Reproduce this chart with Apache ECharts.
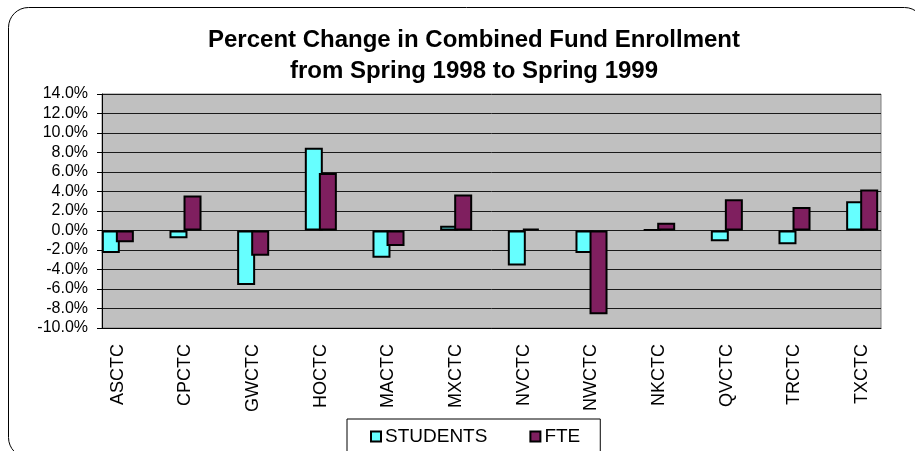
<!DOCTYPE html>
<html>
<head>
<meta charset="utf-8">
<script src="https://cdn.jsdelivr.net/npm/echarts@6/dist/echarts.min.js"></script>
<style>
html,body{margin:0;padding:0;background:#fff;}
#chart{width:915px;height:451px;}
</style>
</head>
<body>
<div id="chart"></div>
<script>
const categories = ['ASCTC','CPCTC','GWCTC','HOCTC','MACTC','MXCTC','NVCTC','NWCTC','NKCTC','QVCTC','TRCTC','TXCTC'];
const students = [-2.3, -0.8, -5.6, 8.5, -2.8, 0.5, -3.6, -2.3, 0.1, -1.1, -1.4, 3.0];
const fte = [-1.2, 3.6, -2.6, 5.9, -1.6, 3.7, 0.2, -8.6, 0.8, 3.2, 2.4, 4.2];
const seriesNames = ['STUDENTS', 'FTE'];
const titleLines = ['Percent Change in Combined Fund Enrollment', 'from Spring 1998 to Spring 1999'];
const yMin = -10, yMax = 14, yStep = 2;

const FONT = '"Liberation Sans", Arial, sans-serif';
const chart = echarts.init(document.getElementById('chart'), null, {renderer: 'canvas'});
chart.setOption({
  animation: false,
  backgroundColor: '#ffffff',
  textStyle: {fontFamily: FONT},
  title: {
    text: titleLines.join('\n'),
    left: 469, top: 20, textAlign: 'center',
    textStyle: {fontFamily: FONT, fontSize: 24, fontWeight: 'bold', color: '#000', lineHeight: 31}
  },
  graphic: [{
    type: 'rect', z: -10, silent: true,
    shape: {x: 8.5, y: 7.5, width: 916, height: 450, r: 20},
    style: {fill: 'none', stroke: '#000', lineWidth: 1}
  }],
  legend: {
    data: seriesNames,
    left: 347, top: 419,
    orient: 'horizontal',
    icon: 'rect',
    itemWidth: 10, itemHeight: 10, itemGap: 42,
    backgroundColor: '#fff', borderColor: '#000', borderWidth: 1,
    padding: [8, 20, 20, 23],
    itemStyle: {borderColor: '#000', borderWidth: 2},
    textStyle: {fontFamily: FONT, fontSize: 19, color: '#000', padding: [0, 0, 0, -1]}
  },
  grid: [
    {left: 102, right: 34, top: 94, bottom: 123, show: true, backgroundColor: '#c0c0c0', borderColor: '#808080', borderWidth: 1},
    {left: 84, right: 19, top: 94, bottom: 123}
  ],
  xAxis: [
    {type: 'category', gridIndex: 0, data: categories,
     axisLine: {show: true, onZero: false, lineStyle: {color: '#000', width: 1}},
     axisTick: {show: false}, axisLabel: {show: false}, splitLine: {show: false}},
    {type: 'category', gridIndex: 1, data: categories,
     axisLine: {show: false}, axisTick: {show: false}, splitLine: {show: false},
     axisLabel: {interval: 0, rotate: 90, margin: 16, fontFamily: FONT, fontSize: 18, color: '#000'}}
  ],
  yAxis: [
    {type: 'value', gridIndex: 0, min: yMin, max: yMax, interval: yStep,
     axisLine: {show: true, lineStyle: {color: '#000', width: 1}},
     axisTick: {show: true, inside: false, length: 5, lineStyle: {color: '#000'}},
     axisLabel: {margin: 14, fontFamily: FONT, fontSize: 16, color: '#000',
       formatter: v => v.toFixed(1) + '%'},
     splitLine: {show: true, lineStyle: {color: '#1a1a1a', width: 1}}},
    {type: 'value', gridIndex: 1, min: yMin, max: yMax, interval: yStep, show: false,
     splitLine: {show: false}}
  ],
  series: [
    {name: seriesNames[0], type: 'bar', xAxisIndex: 1, yAxisIndex: 1, data: students,
     barWidth: 18, barGap: '-22%',
     itemStyle: {color: '#66ffff', borderColor: '#000', borderWidth: 2}},
    {name: seriesNames[1], type: 'bar', xAxisIndex: 1, yAxisIndex: 1, data: fte,
     barWidth: 18, barGap: '-22%',
     itemStyle: {color: '#7f1f5f', borderColor: '#000', borderWidth: 2}}
  ]
});
</script>
</body>
</html>
